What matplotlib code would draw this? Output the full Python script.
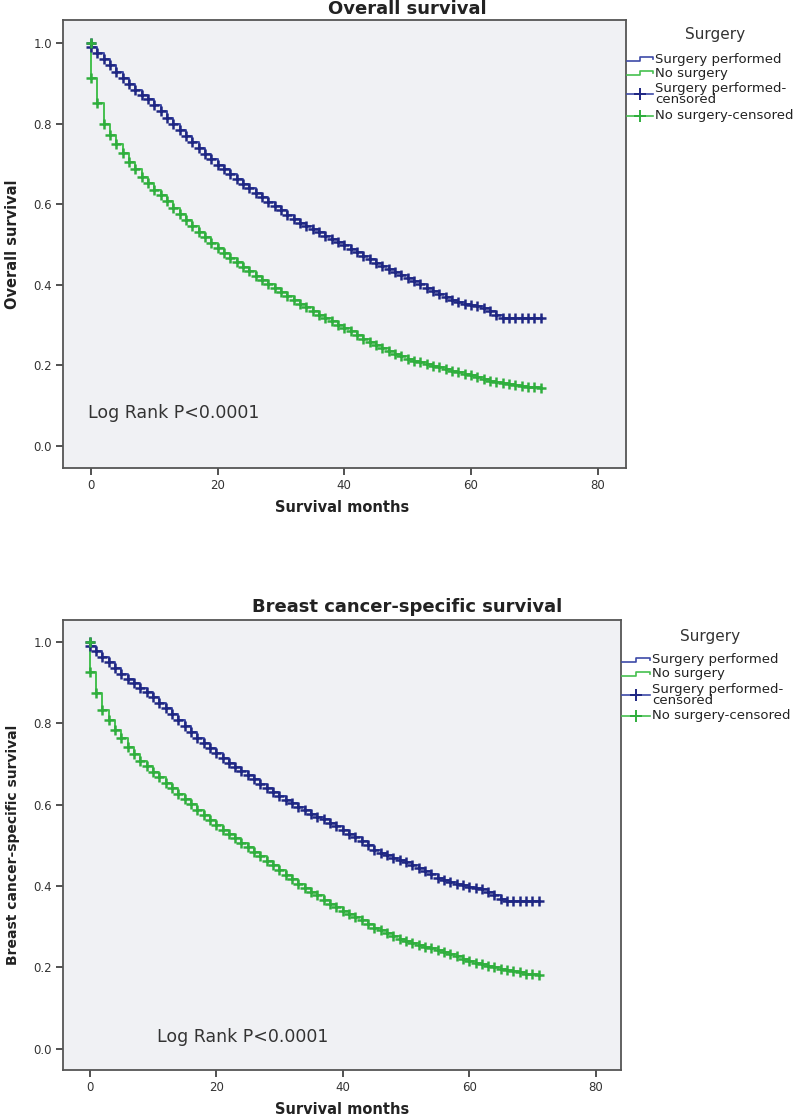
import matplotlib
matplotlib.use('Agg')
import matplotlib.pyplot as plt
from matplotlib.lines import Line2D

months = list(range(72))

os_surgery = [
    0.990, 0.975, 0.960, 0.945, 0.928, 0.912, 0.898, 0.884, 0.872, 0.860,
    0.846, 0.830, 0.814, 0.798, 0.783, 0.768, 0.753, 0.739, 0.725, 0.711,
    0.698, 0.686, 0.674, 0.662, 0.650, 0.639, 0.628, 0.617, 0.606, 0.595,
    0.585, 0.574, 0.563, 0.554, 0.546, 0.538, 0.530, 0.522, 0.513, 0.505,
    0.498, 0.489, 0.480, 0.472, 0.463, 0.455, 0.447, 0.440, 0.432, 0.424,
    0.416, 0.408, 0.401, 0.393, 0.385, 0.377, 0.369, 0.363, 0.358, 0.353,
    0.349, 0.346, 0.341, 0.334, 0.326, 0.318, 0.318, 0.318, 0.318, 0.318,
    0.318, 0.318]

os_nosurgery = [
    0.912, 0.850, 0.800, 0.772, 0.748, 0.726, 0.705, 0.686, 0.668, 0.652,
    0.636, 0.622, 0.607, 0.591, 0.576, 0.561, 0.546, 0.532, 0.518, 0.504,
    0.491, 0.479, 0.467, 0.456, 0.444, 0.433, 0.422, 0.411, 0.401, 0.391,
    0.381, 0.371, 0.362, 0.353, 0.344, 0.335, 0.326, 0.317, 0.309, 0.301,
    0.293, 0.284, 0.275, 0.266, 0.258, 0.250, 0.243, 0.236, 0.229, 0.222,
    0.216, 0.211, 0.207, 0.203, 0.199, 0.195, 0.191, 0.187, 0.183, 0.179,
    0.175, 0.170, 0.166, 0.162, 0.159, 0.156, 0.153, 0.151, 0.149, 0.147,
    0.145, 0.143]

bcss_surgery = [
    0.990, 0.978, 0.964, 0.950, 0.935, 0.921, 0.910, 0.899, 0.888, 0.877,
    0.865, 0.851, 0.837, 0.822, 0.807, 0.793, 0.779, 0.765, 0.752, 0.739,
    0.726, 0.714, 0.703, 0.692, 0.682, 0.672, 0.662, 0.652, 0.642, 0.632,
    0.622, 0.612, 0.603, 0.594, 0.586, 0.578, 0.571, 0.564, 0.556, 0.547,
    0.538, 0.529, 0.520, 0.511, 0.500, 0.489, 0.482, 0.476, 0.470, 0.464,
    0.458, 0.452, 0.445, 0.437, 0.429, 0.421, 0.415, 0.410, 0.406, 0.402,
    0.399, 0.396, 0.392, 0.386, 0.378, 0.369, 0.364, 0.364, 0.364, 0.364,
    0.364, 0.364]

bcss_nosurgery = [
    0.927, 0.874, 0.833, 0.808, 0.784, 0.763, 0.742, 0.724, 0.708, 0.695,
    0.681, 0.667, 0.653, 0.640, 0.627, 0.614, 0.601, 0.588, 0.575, 0.562,
    0.550, 0.539, 0.528, 0.517, 0.506, 0.495, 0.484, 0.473, 0.462, 0.451,
    0.440, 0.428, 0.417, 0.406, 0.395, 0.386, 0.377, 0.367, 0.357, 0.348,
    0.340, 0.332, 0.324, 0.316, 0.306, 0.298, 0.291, 0.284, 0.277, 0.271,
    0.266, 0.261, 0.256, 0.251, 0.247, 0.243, 0.238, 0.233, 0.227, 0.221,
    0.216, 0.212, 0.208, 0.204, 0.200, 0.197, 0.194, 0.191, 0.188, 0.185,
    0.183, 0.181]

group_labels = ["Surgery performed", "No surgery",
                "Surgery performed-\ncensored", "No surgery-censored"]
legend_title = "Surgery"
titles = ["Overall survival", "Breast cancer-specific survival"]
ylabels = ["Overall survival", "Breast cancer-specific survival"]
xlabel = "Survival months"
annotation = "Log Rank P<0.0001"
yticks = [0.0, 0.2, 0.4, 0.6, 0.8, 1.0]
xticks = [0, 20, 40, 60, 80]

W, H = 800, 1117
BLUE_LINE = '#3d4aa8'
BLUE_MARK = '#1f2783'
GREEN_LINE = '#45c04f'
GREEN_MARK = '#2fae3d'
BG = '#f0f1f4'
SPINE = '#555555'

plt.rcParams['font.family'] = ['DejaVu Sans']

fig = plt.figure(figsize=(W / 100, H / 100), dpi=100)


def fx(x):
    return x / W


def fy(y):
    return 1 - y / H


def make_axes(left, top, right, bottom, xlim, ylim):
    ax = fig.add_axes([fx(left), fy(bottom), (right - left) / W, (bottom - top) / H])
    ax.set_facecolor(BG)
    ax.set_xlim(*xlim)
    ax.set_ylim(*ylim)
    ax.set_xticks(xticks)
    ax.set_yticks(yticks)
    ax.set_yticklabels([f"{v:.1f}" for v in yticks])
    ax.tick_params(direction='out', length=5, width=1.2, color='#333333',
                   labelsize=8.5, labelcolor='#333333', pad=3)
    for s in ax.spines.values():
        s.set_color(SPINE)
        s.set_linewidth(1.3)
    return ax


def draw_km(ax, surg, nosurg):
    xs = [0] + months
    for vals, lc in [(surg, BLUE_LINE), (nosurg, GREEN_LINE)]:
        ax.step(xs, [1.0] + vals, where='post', color=lc, lw=1.4, zorder=3)
    for vals, mc in [(surg, BLUE_MARK), (nosurg, GREEN_MARK)]:
        ax.plot(xs, [1.0] + vals, linestyle='none', marker='+', ms=7,
                mew=1.8, color=mc, zorder=4)


def draw_legend(x0, x1, xt, title_xy, rows):
    fig.text(fx(title_xy[0]), fy(title_xy[1]), legend_title, ha='center', va='center',
             fontsize=11, color='#333333')
    for (y, col, lab) in [(rows[0], BLUE_LINE, group_labels[0]),
                          (rows[1], GREEN_LINE, group_labels[1])]:
        xm = (x0 + x1) / 2
        xsx = [x0, xm, xm, x1, x1]
        ysx = [y + 1.8, y + 1.8, y - 1.8, y - 1.8, y]
        fig.add_artist(Line2D([fx(v) for v in xsx], [fy(v) for v in ysx],
                              color=col, lw=1.2, transform=fig.transFigure))
        fig.text(fx(xt), fy(y), lab, ha='left', va='center', fontsize=9.5,
                 color='#222222')
    for (y, col, mcol, lab) in [(rows[2], BLUE_LINE, BLUE_MARK, group_labels[2]),
                                (rows[3], GREEN_LINE, GREEN_MARK, group_labels[3])]:
        fig.add_artist(Line2D([fx(x0), fx(x1)], [fy(y), fy(y)], color=col, lw=1.2,
                              transform=fig.transFigure))
        fig.add_artist(Line2D([fx((x0 + x1) / 2)], [fy(y)], marker='+', ms=8, mew=1.4,
                              color=mcol, linestyle='none', transform=fig.transFigure))
        fig.text(fx(xt), fy(y), lab, ha='left', va='center', fontsize=9.5,
                 color='#222222', linespacing=0.85)


# ---- top panel ----
ax1 = make_axes(63, 20, 626, 468, (-4.4, 84.5), (-0.055, 1.057))
draw_km(ax1, os_surgery, os_nosurgery)
ax1.text(fx(88), fy(413), annotation, transform=fig.transFigure, ha='left',
         va='center', fontsize=12.5, color='#333333')
fig.text(fx(407), fy(9), titles[0], ha='center', va='center', fontsize=13,
         fontweight='bold', color='#222222')
fig.text(fx(13), fy(244), ylabels[0], rotation=90, ha='center', va='center',
         fontsize=10.5, fontweight='bold', color='#222222')
fig.text(fx(342), fy(508), xlabel, ha='center', va='center', fontsize=10.5,
         fontweight='bold', color='#222222')
draw_legend(627, 653, 655, (715, 35), [59, 73, 94, 116])

# ---- bottom panel ----
ax2 = make_axes(63, 620, 621, 1070, (-4.22, 84.0), (-0.052, 1.054))
draw_km(ax2, bcss_surgery, bcss_nosurgery)
ax2.text(fx(157), fy(1037), annotation, transform=fig.transFigure, ha='left',
         va='center', fontsize=12.5, color='#333333')
fig.text(fx(407), fy(607), titles[1], ha='center', va='center', fontsize=13,
         fontweight='bold', color='#222222')
fig.text(fx(13), fy(845), ylabels[1], rotation=90, ha='center', va='center',
         fontsize=10, fontweight='bold', color='#222222')
fig.text(fx(342), fy(1110), xlabel, ha='center', va='center', fontsize=10.5,
         fontweight='bold', color='#222222')
draw_legend(622, 650, 652, (710, 636), [660, 674, 695, 716])

fig.savefig('out.png', dpi=100, facecolor='white')
